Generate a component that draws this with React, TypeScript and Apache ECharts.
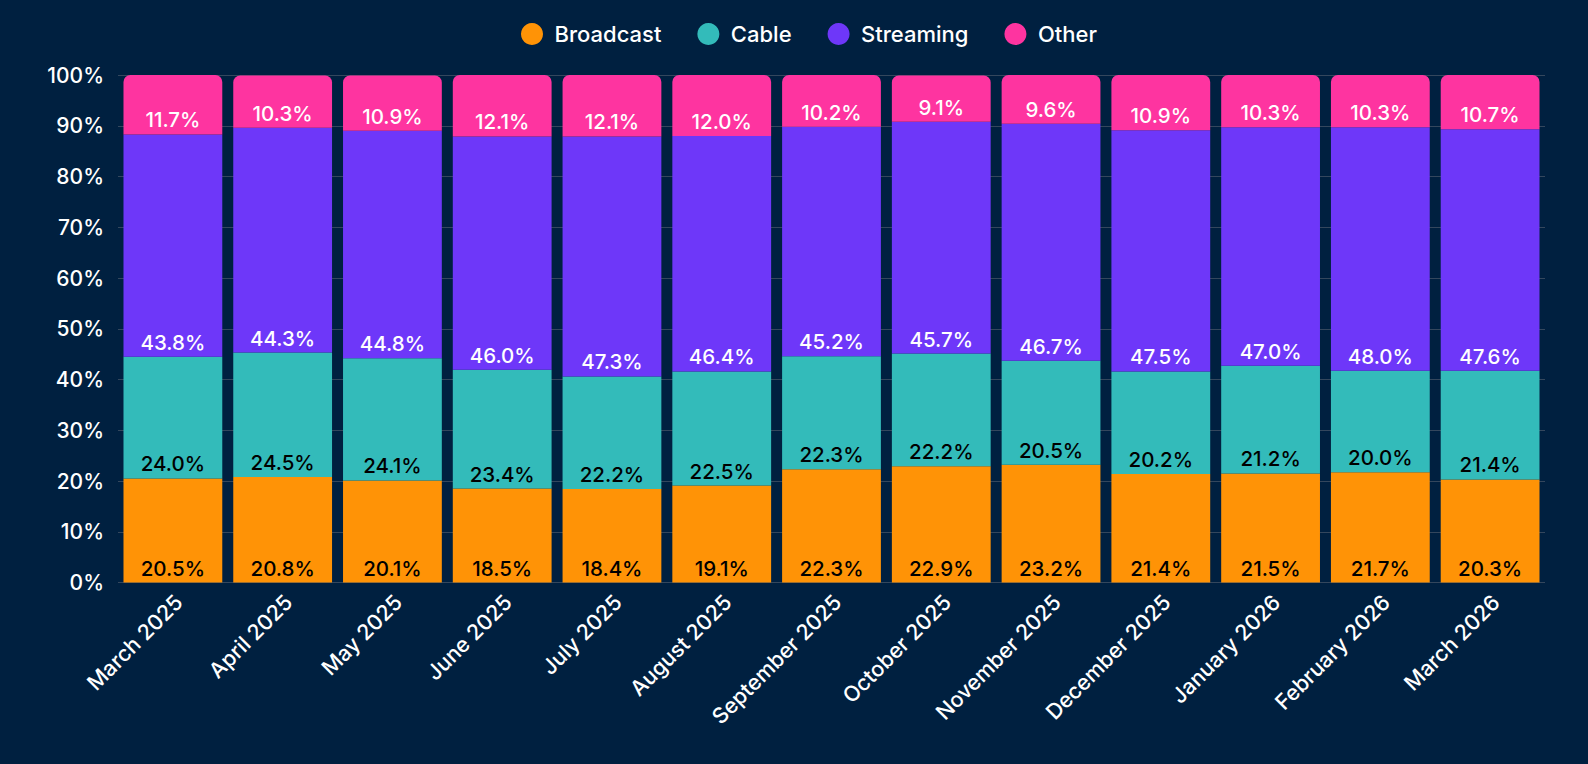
import React, { useEffect, useRef } from 'react';
import * as echarts from 'echarts';

const categories = [
  'March 2025', 'April 2025', 'May 2025', 'June 2025', 'July 2025', 'August 2025',
  'September 2025', 'October 2025', 'November 2025', 'December 2025',
  'January 2026', 'February 2026', 'March 2026',
];
const broadcast = [20.5, 20.8, 20.1, 18.5, 18.4, 19.1, 22.3, 22.9, 23.2, 21.4, 21.5, 21.7, 20.3];
const cable = [24.0, 24.5, 24.1, 23.4, 22.2, 22.5, 22.3, 22.2, 20.5, 20.2, 21.2, 20.0, 21.4];
const streaming = [43.8, 44.3, 44.8, 46.0, 47.3, 46.4, 45.2, 45.7, 46.7, 47.5, 47.0, 48.0, 47.6];
const other = [11.7, 10.3, 10.9, 12.1, 12.1, 12.0, 10.2, 9.1, 9.6, 10.9, 10.3, 10.3, 10.7];
const yTicks = [0, 10, 20, 30, 40, 50, 60, 70, 80, 90, 100];

const FONT = 'Inter';
const BG = '#002040';

const makeSeries = (name: string, data: number[], color: string, textColor: string, top = false) => ({
  name,
  type: 'bar' as const,
  stack: 'total',
  barCategoryGap: '10%',
  data,
  itemStyle: { color, borderRadius: top ? [7, 7, 0, 0] : 0 },
  label: {
    show: true,
    position: 'insideBottom' as const,
    distance: 4,
    color: textColor,
    fontFamily: FONT,
    fontSize: 20.5,
    fontWeight: 500,
    formatter: (p: any) => `${Number(p.value).toFixed(1)}%`,
  },
});

const App: React.FC = () => {
  const chartRef = useRef<HTMLDivElement>(null);

  useEffect(() => {
    document.body.style.margin = '0';
    const chart = echarts.init(chartRef.current!, undefined, { renderer: 'svg' });
    chart.setOption({
      animation: false,
      backgroundColor: BG,
      textStyle: { fontFamily: FONT },
      legend: {
        top: 23,
        left: 521,
        padding: 0,
        icon: 'circle',
        itemWidth: 35,
        itemHeight: 22,
        itemGap: 36,
        textStyle: { color: '#ffffff', fontSize: 22, fontWeight: 500, lineHeight: 22, fontFamily: FONT },
      },
      grid: { left: 118, right: 43, top: 75, bottom: 181.5, containLabel: false },
      xAxis: {
        type: 'category',
        data: categories,
        axisLine: { show: false },
        axisTick: { show: false },
        axisLabel: {
          color: '#ffffff',
          fontSize: 21.5,
          fontWeight: 500,
          fontFamily: FONT,
          rotate: 45,
          margin: 10,
          verticalAlign: 'top',
          lineHeight: 16,
          interval: 0,
        },
      },
      yAxis: {
        type: 'value',
        min: yTicks[0],
        max: yTicks[yTicks.length - 1],
        interval: 10,
        axisLabel: {
          color: '#ffffff',
          fontSize: 21,
          fontWeight: 500,
          fontFamily: FONT,
          margin: 14,
          formatter: '{value}%',
        },
        splitLine: { lineStyle: { color: '#34475d', width: 1 } },
      },
      series: [
        makeSeries('Broadcast', broadcast, '#ff9306', '#000000'),
        makeSeries('Cable', cable, '#33bbba', '#000000'),
        makeSeries('Streaming', streaming, '#6e37f9', '#ffffff'),
        makeSeries('Other', other, '#fe34a0', '#ffffff', true),
      ],
    });
    return () => {
      chart.dispose();
    };
  }, []);

  return <div ref={chartRef} style={{ width: '1588px', height: '764px' }} />;
};

export default App;
